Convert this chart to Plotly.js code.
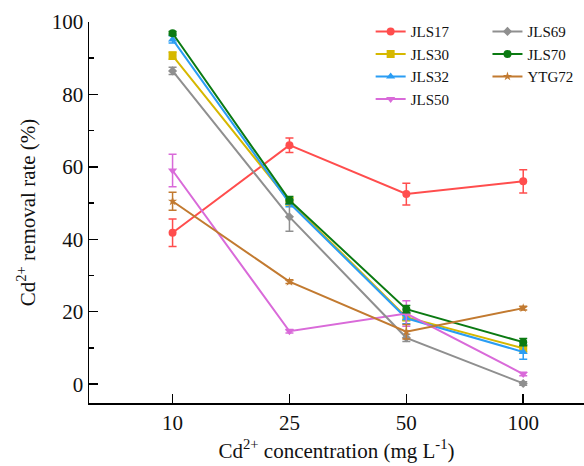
<!DOCTYPE html>
<html><head><meta charset="utf-8">
<script src="https://cdn.plot.ly/plotly-3.0.1.min.js"></script>
<style>html,body{margin:0;padding:0;background:#fff}</style>
</head><body><div id="chart" style="width:584px;height:466px"></div>
<script>
const categories = ["10", "25", "50", "100"];
const seriesNames = ["JLS17", "JLS30", "JLS32", "JLS50", "JLS69", "JLS70", "YTG72"];
const JLS17 = [41.8, 66.0, 52.5, 56.0];
const JLS17_err = [3.8, 2.0, 3.0, 3.2];
const JLS30 = [90.7, 50.5, 18.5, 9.9];
const JLS30_err = [1.0, 1.0, 1.0, 1.0];
const JLS32 = [95.2, 50.0, 18.2, 8.9];
const JLS32_err = [1.0, 1.0, 1.5, 2.0];
const JLS50 = [59.0, 14.6, 19.5, 2.8];
const JLS50_err = [4.5, 0.5, 3.5, 0.5];
const JLS69 = [86.5, 46.2, 12.8, 0.2];
const JLS69_err = [1.0, 4.0, 1.0, 0.5];
const JLS70 = [96.9, 50.8, 20.7, 11.6];
const JLS70_err = [0.5, 1.0, 1.0, 1.0];
const YTG72 = [50.5, 28.3, 14.5, 21.0];
const YTG72_err = [2.5, 0.5, 2.0, 0.5];

const values = [JLS17, JLS30, JLS32, JLS50, JLS69, JLS70, YTG72];
const errors = [JLS17_err, JLS30_err, JLS32_err, JLS50_err, JLS69_err, JLS70_err, YTG72_err];
const colors = ["#FF4D4D", "#D6B800", "#2A9DF4", "#D96AD9", "#8F8F8F", "#0B7A12", "#C27A30"];
const symbols = ["circle", "square", "triangle-up", "triangle-down", "diamond", "circle", "star"];
const sizes = [8, 8, 8, 8, 7, 8, 7];

const FAM = "Liberation Serif";

const traces = seriesNames.map((name, i) => ({
  x: categories, y: values[i], name: name, type: "scatter", mode: "lines+markers",
  line: {color: colors[i], width: 2},
  marker: {color: colors[i], symbol: symbols[i], size: sizes[i]},
  error_y: {type: "data", array: errors[i], visible: true, color: colors[i], thickness: 1.5, width: 4},
  cliponaxis: false,
  legend: i < 4 ? "legend" : "legend2"
}));

Plotly.newPlot("chart", traces, {
  width: 584, height: 466,
  margin: {l: 89, r: 0, t: 22, b: 63},
  paper_bgcolor: "#fff", plot_bgcolor: "#fff",
  font: {family: FAM, size: 21, color: "#111"},
  showlegend: true,
  legend: {x: 0.569, y: 1.018, xanchor: "left", yanchor: "top", tracegroupgap: 0,
    bgcolor: "rgba(0,0,0,0)", font: {family: FAM, size: 15, color: "#111"}},
  legend2: {x: 0.805, y: 1.018, xanchor: "left", yanchor: "top", tracegroupgap: 0,
    bgcolor: "rgba(0,0,0,0)", font: {family: FAM, size: 15, color: "#111"}},
  xaxis: {
    type: "category", range: [-0.715, 3.52],
    showline: true, linecolor: "#000", linewidth: 1.5, mirror: false,
    ticks: "inside", ticklen: 9, tickwidth: 1.5, tickcolor: "#000",
    showgrid: false, zeroline: false,
    tickfont: {family: FAM, size: 21},
    title: {text: "Cd<sup>2+</sup> concentration (mg L<sup>-1</sup>)", font: {family: FAM, size: 21}, standoff: 9}
  },
  yaxis: {
    range: [-5.2, 100], tickvals: [0, 20, 40, 60, 80, 100],
    showline: true, linecolor: "#000", linewidth: 1.5,
    ticks: "inside", ticklen: 9, tickwidth: 1.5, tickcolor: "#000",
    minor: {tickvals: [10, 30, 50, 70, 90], ticks: "inside", ticklen: 5, tickwidth: 1.5, tickcolor: "#000"},
    showgrid: false, zeroline: false,
    tickfont: {family: FAM, size: 21},
    title: {text: "Cd<sup>2+</sup> removal rate (%)", font: {family: FAM, size: 21}, standoff: 10}
  }
}, {displayModeBar: false, staticPlot: true});
</script></body></html>
